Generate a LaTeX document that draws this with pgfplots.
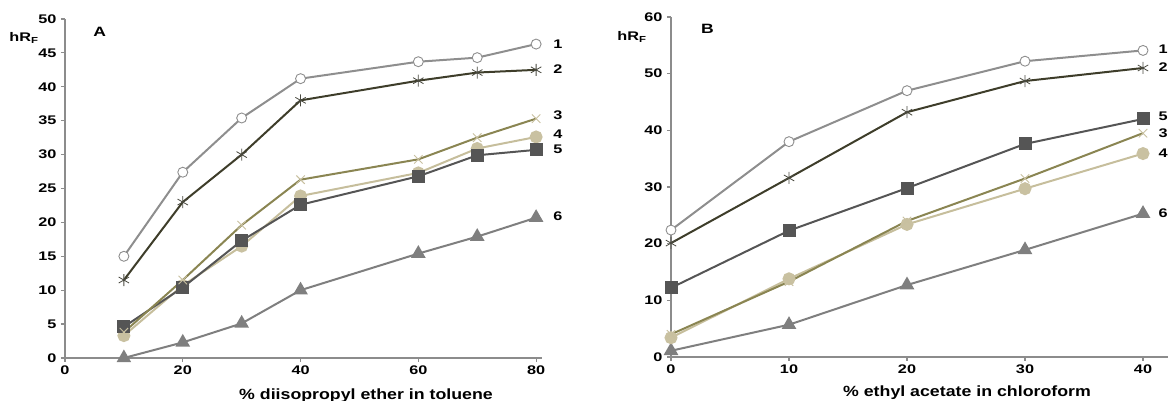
\documentclass[border=0pt]{standalone}
\usepackage{pgfplots}
\pgfplotsset{compat=1.18}
\usepackage{fontspec}
\setmainfont{Liberation Sans}
\definecolor{axgray}{HTML}{8C8C8C}
\definecolor{c1}{HTML}{8E8E8E}
\definecolor{c2}{HTML}{3E3D2A}
\definecolor{c2m}{HTML}{4A4A40}
\definecolor{c3}{HTML}{8A8552}
\definecolor{c3m}{HTML}{C8C0A0}
\definecolor{c4}{HTML}{C6BE9C}
\definecolor{c4m}{HTML}{C9C1A1}
\definecolor{c5}{HTML}{555555}
\definecolor{c6}{HTML}{7F7F7F}
\pgfplotsset{
  myax/.style={scale only axis, axis lines=left,
    axis line style={-, draw=axgray, line width=1.3pt},
    tick align=outside, major tick length=4pt,
    tick style={draw=axgray, line width=1.2pt},
    tick label style={font=\fontsize{12.5}{12.5}\selectfont\bfseries, xscale=1.3},
    /pgf/number format/assume math mode=true,
    clip=false},
  s1/.style={c1, line width=2pt, mark=*, mark size=5pt, mark options={draw=c1, fill=white, line width=0.9pt}},
  s2/.style={c2, line width=2pt, mark=asterisk, mark size=6pt, mark options={draw=c2m, line width=0.8pt}},
  s3/.style={c3, line width=2pt, mark=x, mark size=6pt, mark options={draw=c3m, line width=0.9pt}},
  s4/.style={c4, line width=2pt, mark=*, mark size=5.5pt, mark options={draw=c4m, fill=c4m}},
  s5/.style={c5, line width=2pt, mark=square*, mark size=5.5pt, mark options={draw=c5, fill=c5}},
  s6/.style={c6, line width=2pt, mark=triangle*, mark size=6.5pt, mark options={draw=c6, fill=c6}},
}
\tikzset{lab/.style={font=\fontsize{12.5}{12.5}\selectfont\bfseries, xscale=1.3, anchor=west, inner sep=0pt}}
\begin{document}
\begin{tikzpicture}[x=1pt,y=1pt]
\clip (0,0) rectangle (1168,401);
% Panel A
\begin{axis}[myax, at={(65pt,43pt)}, anchor=south west,
  width=477pt, height=339pt, xmin=0, xmax=81, ymin=0, ymax=50,
  xtick={0,20,40,60,80}, ytick={0,5,...,50}]
\addplot[s6] coordinates {(10,0)(20,2.3)(30,5.1)(40,10.0)(60,15.4)(70,17.9)(80,20.7)};
\addplot[s4] coordinates {(10,3.3)(20,10.7)(30,16.5)(40,23.9)(60,27.3)(70,30.9)(80,32.6)};
\addplot[s5] coordinates {(10,4.6)(20,10.4)(30,17.3)(40,22.6)(60,26.8)(70,29.9)(80,30.7)};
\addplot[s3] coordinates {(10,3.8)(20,11.5)(30,19.6)(40,26.3)(60,29.3)(70,32.5)(80,35.3)};
\addplot[s2] coordinates {(10,11.5)(20,23.0)(30,30.0)(40,38.0)(60,40.9)(70,42.1)(80,42.5)};
\addplot[s1] coordinates {(10,15.0)(20,27.4)(30,35.4)(40,41.2)(60,43.7)(70,44.3)(80,46.3)};
\node[lab] at (axis cs:82.9,46.3) {1};
\node[lab] at (axis cs:82.9,42.6) {2};
\node[lab] at (axis cs:82.9,35.8) {3};
\node[lab] at (axis cs:82.9,33.0) {4};
\node[lab] at (axis cs:82.9,30.8) {5};
\node[lab] at (axis cs:82.9,20.9) {6};
\node[font=\fontsize{13.5}{13.5}\selectfont\bfseries, xscale=1.3] at (axis cs:5.9,48.1) {A};
\end{axis}
% Panel B
\begin{axis}[myax, at={(671pt,44pt)}, anchor=south west,
  width=590pt, height=340pt, xmin=0, xmax=50, ymin=0, ymax=60,
  xtick={0,10,20,30,40}, ytick={0,10,...,60}]
\addplot[s6] coordinates {(0,1.1)(10,5.7)(20,12.7)(30,18.9)(40,25.3)};
\addplot[s4] coordinates {(0,3.4)(10,13.8)(20,23.4)(30,29.7)(40,35.9)};
\addplot[s3] coordinates {(0,4.0)(10,13.3)(20,24.0)(30,31.5)(40,39.5)};
\addplot[s5] coordinates {(0,12.2)(10,22.3)(20,29.8)(30,37.6)(40,42.0)};
\addplot[s2] coordinates {(0,20.1)(10,31.6)(20,43.2)(30,48.7)(40,51.0)};
\addplot[s1] coordinates {(0,22.4)(10,38.0)(20,47.0)(30,52.2)(40,54.1)};
\node[lab] at (axis cs:41.3,54.3) {1};
\node[lab] at (axis cs:41.3,51.2) {2};
\node[lab] at (axis cs:41.3,42.4) {5};
\node[lab] at (axis cs:41.3,39.5) {3};
\node[lab] at (axis cs:41.3,36.0) {4};
\node[lab] at (axis cs:41.3,25.4) {6};
\node[font=\fontsize{13.5}{13.5}\selectfont\bfseries, xscale=1.3] at (axis cs:3.1,57.9) {B};
\end{axis}
% y labels
\node[font=\fontsize{12.5}{12.5}\selectfont\bfseries, xscale=1.3] at (24,363) {hR\textsubscript{F}};
\node[font=\fontsize{12.5}{12.5}\selectfont\bfseries, xscale=1.3] at (632,364) {hR\textsubscript{F}};
% x labels
\node[font=\fontsize{14.8}{15}\selectfont\bfseries, xscale=1.2, anchor=base] at (366,1) {\% diisopropyl ether in toluene};
\node[font=\fontsize{14.8}{15}\selectfont\bfseries, xscale=1.2, anchor=base] at (967,4) {\% ethyl acetate in chloroform};
\end{tikzpicture}
\end{document}
